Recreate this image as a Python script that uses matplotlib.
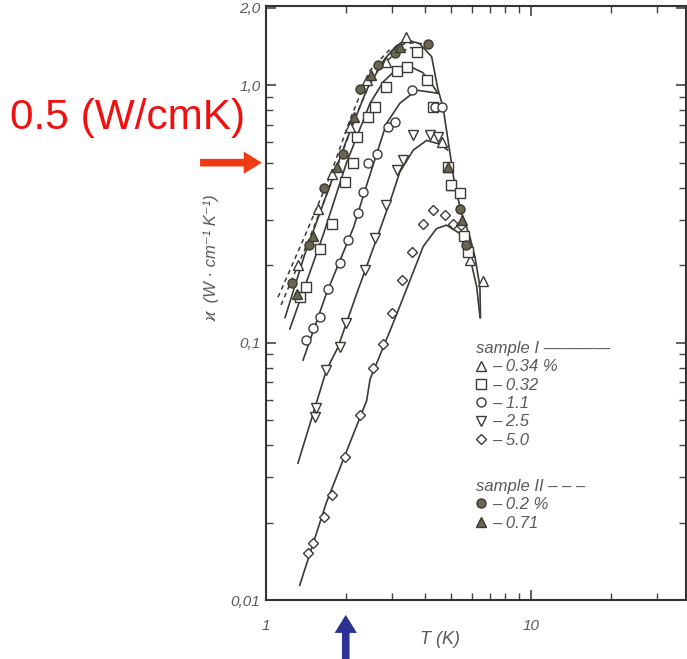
import numpy as np
import matplotlib.pyplot as plt
from matplotlib.ticker import FixedLocator, NullFormatter
from matplotlib.lines import Line2D

plt.rcParams['font.family'] = ['Liberation Sans', 'DejaVu Sans']

INK = '#3a3933'
GREY = '#5a5a55'
FILL = '#6b6650'

# measured points, sample I
T_tri = [1.32, 1.57, 1.77, 2.07, 2.40, 2.85, 3.37, 4.6, 5.0, 5.9, 6.59]
k_tri = [0.20, 0.33, 0.45, 0.69, 1.05, 1.23, 1.54, 0.60, 0.41, 0.21, 0.173]

T_sq = [1.34, 1.42, 1.60, 1.77, 1.99, 2.13, 2.20, 2.43, 2.58, 2.85, 3.11, 3.40, 3.70,
        4.04, 4.27, 4.86, 5.0, 5.4, 5.6, 5.78]
k_sq = [0.15, 0.165, 0.23, 0.29, 0.42, 0.50, 0.63, 0.75, 0.82, 0.985, 1.13, 1.18, 1.35,
        1.05, 0.82, 0.48, 0.41, 0.38, 0.26, 0.225]

T_circ = [1.42, 1.51, 1.60, 1.72, 1.90, 2.04, 2.23, 2.33, 2.43, 2.62, 2.89, 3.07, 3.55, 4.34, 4.6]
k_circ = [0.102, 0.114, 0.126, 0.162, 0.203, 0.25, 0.318, 0.385, 0.50, 0.54, 0.69, 0.72, 0.956,
          0.82, 0.82]

T_dtri = [1.53, 1.55, 1.69, 1.90, 2.01, 2.36, 2.58, 2.85, 3.11, 3.29, 3.6, 4.16, 4.45]
k_dtri = [0.0515, 0.0557, 0.078, 0.096, 0.119, 0.191, 0.254, 0.342, 0.47, 0.51, 0.64, 0.64, 0.63]

T_dia = [1.44, 1.51, 1.65, 1.77, 1.99, 2.26, 2.54, 2.77, 2.98, 3.25, 3.55, 3.92, 4.28, 4.74,
         5.09, 5.47]
k_dia = [0.0152, 0.0167, 0.021, 0.0256, 0.036, 0.0522, 0.0794, 0.099, 0.13, 0.175, 0.225, 0.29,
         0.327, 0.313, 0.29, 0.286]

# measured points, sample II
T_fcirc = [1.25, 1.45, 1.65, 1.96, 2.26, 2.65, 3.07, 4.09, 5.4, 5.7]
k_fcirc = [0.17, 0.24, 0.40, 0.54, 0.97, 1.20, 1.33, 1.44, 0.33, 0.24]

T_ftri = [1.31, 1.50, 1.85, 2.15, 2.50, 3.21, 4.86, 5.5]
k_ftri = [0.155, 0.26, 0.48, 0.75, 1.10, 1.41, 0.48, 0.30]

# fitted curves
T_line_tri = [1.18, 1.4, 1.7, 2.0, 2.4, 2.8, 3.1, 3.4, 3.8, 4.22, 4.45, 4.66, 4.95, 5.17, 5.48,
              5.88, 6.15, 6.42, 6.45]
k_line_tri = [0.125, 0.22, 0.38, 0.60, 0.96, 1.26, 1.42, 1.50, 1.45, 1.29, 0.97, 0.82, 0.543,
              0.403, 0.318, 0.258, 0.215, 0.165, 0.125]

T_line_sq = [1.23, 1.65, 2.01, 2.47, 2.77, 3.1, 3.5, 3.9, 4.2, 4.45]
k_line_sq = [0.113, 0.265, 0.497, 0.85, 1.03, 1.15, 1.18, 1.12, 1.02, 0.93]

T_line_circ = [1.38, 1.69, 2.14, 2.40, 2.85, 3.2, 3.7, 4.16, 4.45]
k_line_circ = [0.0855, 0.155, 0.28, 0.41, 0.71, 0.85, 0.956, 0.94, 0.93]

T_line_dtri = [1.32, 1.69, 1.87, 2.2, 2.58, 2.98, 3.2, 3.6, 4.04, 4.53, 4.85]
k_line_dtri = [0.034, 0.078, 0.096, 0.155, 0.243, 0.368, 0.46, 0.56, 0.61, 0.59, 0.56]

T_line_dia = [1.34, 1.69, 2.07, 2.4, 2.47, 3.02, 3.5, 3.92, 4.4, 4.8, 5.4, 5.88, 6.24, 6.43]
k_line_dia = [0.0114, 0.0239, 0.0406, 0.0596, 0.072, 0.119, 0.175, 0.236, 0.277, 0.286, 0.265,
              0.216, 0.165, 0.125]

T_line_02 = [1.11, 1.38, 1.74, 2.07, 2.47, 2.9, 3.4, 3.9, 4.2]
k_line_02 = [0.15, 0.25, 0.44, 0.73, 1.14, 1.36, 1.46, 1.45, 1.35]

T_line_071 = [1.14, 1.45, 1.80, 2.15, 2.55, 3.0, 3.5, 4.0]
k_line_071 = [0.14, 0.25, 0.44, 0.73, 1.10, 1.30, 1.40, 1.36]

fig = plt.figure(figsize=(6.87, 6.59), dpi=100)
ax = fig.add_axes([266 / 687, 59 / 659, 420 / 687, 594 / 659])
ax.set_xscale('log')
ax.set_yscale('log')
ax.set_xlim(1, 38.5)
ax.set_ylim(0.01, 2.03)

for T, k in [(T_line_tri, k_line_tri), (T_line_sq, k_line_sq), (T_line_circ, k_line_circ),
             (T_line_dtri, k_line_dtri), (T_line_dia, k_line_dia)]:
    ax.plot(T, k, '-', color=INK, lw=1.2)
for T, k in [(T_line_02, k_line_02), (T_line_071, k_line_071)]:
    ax.plot(T, k, '--', color=INK, lw=1.1, dashes=(3, 2.5))

ms = 6.5
open_kw = dict(ls='none', mfc='white', mec=INK, mew=1.0, ms=ms)
ax.plot(T_tri, k_tri, marker='^', **open_kw)
ax.plot(T_sq, k_sq, marker='s', **open_kw)
ax.plot(T_circ, k_circ, marker='o', **open_kw)
ax.plot(T_dtri, k_dtri, marker='v', **open_kw)
ax.plot(T_dia, k_dia, marker='D', **dict(open_kw, ms=5.5))
ax.plot(T_fcirc, k_fcirc, marker='o', ls='none', mfc=FILL, mec=INK, mew=1.0, ms=ms)
ax.plot(T_ftri, k_ftri, marker='^', ls='none', mfc=FILL, mec=INK, mew=1.0, ms=ms)

# axes styling
for s in ax.spines.values():
    s.set_linewidth(1.5)
    s.set_color('#333333')
ax.xaxis.set_major_locator(FixedLocator([1, 10]))
ax.xaxis.set_minor_locator(FixedLocator([2, 3, 4, 5, 6, 7, 8, 9, 20, 30]))
ax.set_xticklabels(['1', '10'])
ax.xaxis.set_minor_formatter(NullFormatter())
ax.yaxis.set_major_locator(FixedLocator([0.01, 0.1, 1.0, 2.0]))
ax.yaxis.set_minor_locator(FixedLocator([0.02, 0.03, 0.04, 0.05, 0.06, 0.07, 0.08, 0.09,
                                         0.2, 0.3, 0.4, 0.5, 0.6, 0.7, 0.8, 0.9]))
ax.set_yticklabels(['0,01', '0,1', '1,0', '2,0'])
ax.yaxis.set_minor_formatter(NullFormatter())
ax.tick_params(which='both', direction='in', top=True, right=True, color='#444444',
               labelcolor=GREY, labelsize=11)
ax.tick_params(which='major', length=7, width=1.2, pad=4)
ax.tick_params(which='minor', length=5, width=1.0)
for lab in ax.get_xticklabels() + ax.get_yticklabels():
    lab.set_fontstyle('italic')
ax.tick_params(axis='x', pad=14)

ax.set_xlabel('T (K)', fontsize=13, style='italic', color=GREY)
ax.xaxis.set_label_coords(0.414, -0.053)
ax.set_ylabel('ϰ  (W · cm⁻¹ K⁻¹)', fontsize=12, style='italic', color=GREY)
ax.yaxis.set_label_coords(-0.11, 0.576)

# legends
leg_kw = dict(loc='upper left', frameon=False, handlelength=0.6, handletextpad=0.4,
              labelspacing=0.2, borderpad=0, prop=dict(size=12, style='italic'),
              title_fontproperties=dict(size=12, style='italic'), labelcolor=GREY)
h1 = [Line2D([], [], ls='none', marker=m, mfc='white', mec=INK, mew=1.0, ms=ms if m != 'D' else 5)
      for m in ['^', 's', 'o', 'v', 'D']]
leg1 = ax.legend(h1, ['– 0.34 %', '– 0.32', '– 1.1', '– 2.5', '– 5.0'],
                 title='sample I ————', bbox_to_anchor=(0.48, 0.45), **leg_kw)
leg1._legend_box.align = 'left'
leg1.get_title().set_color(GREY)
ax.add_artist(leg1)
h2 = [Line2D([], [], ls='none', marker=m, mfc=FILL, mec=INK, mew=1.0, ms=ms) for m in ['o', '^']]
leg2 = ax.legend(h2, ['– 0.2 %', '– 0.71'], title='sample II – – –',
                 bbox_to_anchor=(0.48, 0.218), **leg_kw)
leg2._legend_box.align = 'left'
leg2.get_title().set_color(GREY)

# highlight arrows
fig.text(10 / 687, 1 - 118 / 659, '0.5 (W/cmK)', color='#f01010', fontsize=30.5,
         va='center', ha='left')
ax.annotate('', xy=(-0.01, 0.5), xycoords=ax.get_yaxis_transform(),
            xytext=(-0.157, 0.5), textcoords=ax.get_yaxis_transform(),
            arrowprops=dict(facecolor='#f03a14', edgecolor='none', width=5.5, headwidth=16,
                            headlength=13, shrink=0), annotation_clip=False)
ax.annotate('', xy=(2, -0.025), xycoords=ax.get_xaxis_transform(),
            xytext=(2, -0.105), textcoords=ax.get_xaxis_transform(),
            arrowprops=dict(facecolor='#2e3192', edgecolor='none', width=5.5, headwidth=16,
                            headlength=13, shrink=0), annotation_clip=False)

fig.savefig('out.png', dpi=100)
